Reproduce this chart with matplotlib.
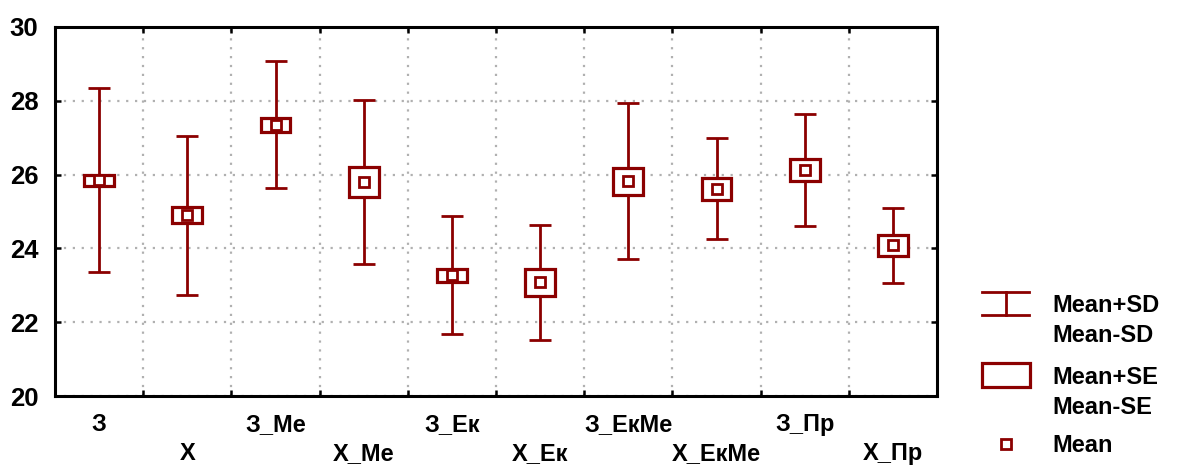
import matplotlib
matplotlib.use("Agg")
import matplotlib.pyplot as plt
from matplotlib.patches import Rectangle
from matplotlib.lines import Line2D
import numpy as np

plt.rcParams['font.family'] = ['Liberation Sans', 'DejaVu Sans']
plt.rcParams['font.weight'] = 'bold'

categories = ["З", "Х", "З_Ме", "Х_Ме", "З_Ек", "Х_Ек", "З_ЕкМе", "Х_ЕкМе", "З_Пр", "Х_Пр"]
means = [25.85, 24.90, 27.35, 25.80, 23.27, 23.08, 25.82, 25.62, 26.13, 24.08]
se = [0.15, 0.21, 0.185, 0.40, 0.18, 0.36, 0.36, 0.30, 0.30, 0.29]
sd = [2.49, 2.15, 1.72, 2.23, 1.60, 1.56, 2.12, 1.37, 1.51, 1.02]
yticks = [20, 22, 24, 26, 28, 30]

RED = '#8b0000'
W, H = 1177, 467
fig = plt.figure(figsize=(W / 100, H / 100), dpi=100)
ax = fig.add_axes([55 / W, 1 - 396 / H, (937 - 55) / W, (396 - 27) / H])

x = np.arange(len(categories))
ax.errorbar(x, means, yerr=sd, fmt='none', ecolor=RED, elinewidth=2.0,
            capsize=8, capthick=2.0, zorder=3)
bw = 0.34
for xi, m, s in zip(x, means, se):
    ax.add_patch(Rectangle((xi - bw / 2, m - s), bw, 2 * s, facecolor='white',
                           edgecolor=RED, linewidth=2.3, zorder=4))
ax.plot(x, means, linestyle='none', marker='s', markersize=6.5, markerfacecolor='white',
        markeredgecolor=RED, markeredgewidth=2.0, zorder=5)

ax.set_xlim(-0.5, len(categories) - 0.5)
ax.set_ylim(20, 30)
ax.set_yticks(yticks)
ax.set_yticklabels([str(v) for v in yticks], fontsize=18.5, fontweight='bold')
ax.set_xticks(x)
ax.set_xticklabels([c if i % 2 == 0 else "\n" + c for i, c in enumerate(categories)],
                   fontsize=17, fontweight='bold')
for lbl in ax.get_xticklabels():
    lbl.set_linespacing(1.33)
ax.tick_params(axis='x', which='major', length=0, pad=12)
ax.set_xticks(np.arange(len(categories) - 1) + 0.5, minor=True)
ax.tick_params(axis='x', which='minor', direction='in', length=4, width=1.8,
               top=True, bottom=True)
ax.tick_params(axis='y', which='major', direction='in', length=4, width=1.8,
               left=True, right=True, pad=12)

ax.grid(True, axis='y', which='major', color='#b0b0b0', linestyle=(0, (1, 3)), linewidth=1.6)
ax.grid(True, axis='x', which='minor', color='#b0b0b0', linestyle=(0, (1, 3)), linewidth=1.6)
ax.set_axisbelow(True)
for sp in ax.spines.values():
    sp.set_linewidth(2.2)
    sp.set_color('black')

# Legend (custom, drawn in figure pixel coordinates)
lg = fig.add_axes([0, 0, 1, 1], facecolor='none')
lg.set_xlim(0, W)
lg.set_ylim(H, 0)
lg.axis('off')
lg.add_line(Line2D([982, 1029], [292, 292], color=RED, lw=2.0))
lg.add_line(Line2D([982, 1029], [315, 315], color=RED, lw=2.0))
lg.add_line(Line2D([1005.5, 1005.5], [292, 315], color=RED, lw=2.0))
lg.add_patch(Rectangle((982, 363), 48, 24, facecolor='white', edgecolor=RED, linewidth=2.3))
lg.plot([1005.5], [444], linestyle='none', marker='s', markersize=6.5, markerfacecolor='white',
        markeredgecolor=RED, markeredgewidth=2.0)
ltxt = dict(fontsize=17, fontweight='bold', va='center', ha='left')
lg.text(1052, 305, "Mean+SD", **ltxt)
lg.text(1052, 335, "Mean-SD", **ltxt)
lg.text(1052, 377, "Mean+SE", **ltxt)
lg.text(1052, 407, "Mean-SE", **ltxt)
lg.text(1052, 445, "Mean", **ltxt)

fig.savefig("out.png", dpi=100)
